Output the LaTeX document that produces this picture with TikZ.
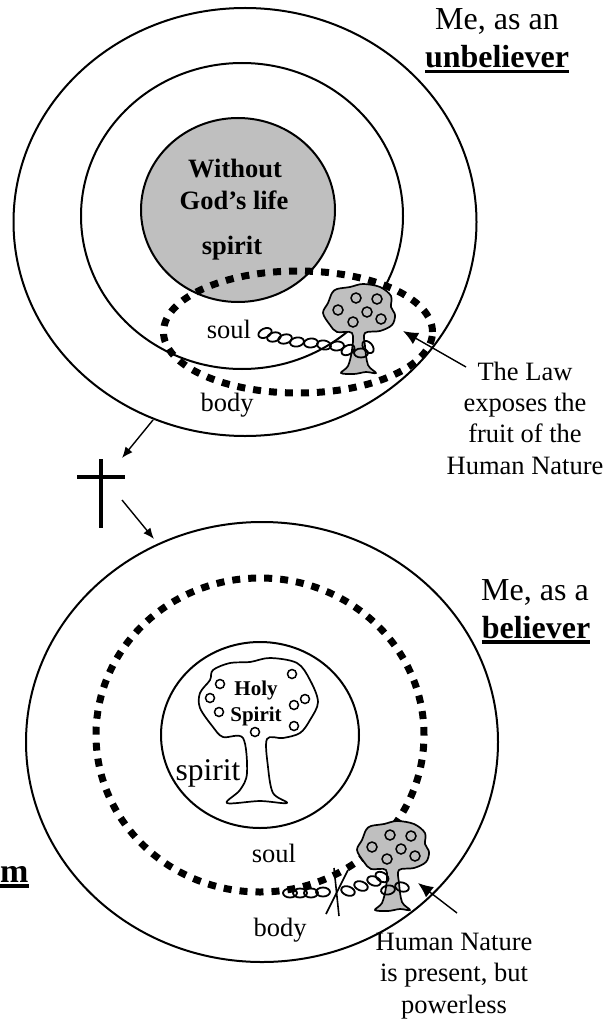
\documentclass[tikz,border=0pt]{standalone}
\usepackage{fontspec}
\setmainfont{Liberation Serif}
\usetikzlibrary{arrows.meta, positioning, shapes.geometric}
\newcommand{\fs}[1]{\fontsize{#1}{31.3}\selectfont}
\newcommand{\ulbar}[1]{\setbox0\hbox{#1}\rlap{\copy0}\rlap{\rule[-5.5pt]{\wd0}{3.5pt}}\hskip\wd0}
\begin{document}
\begin{tikzpicture}[
    x=1pt, y=-1pt,
    ring/.style={ellipse, draw=black, line width=2pt, inner sep=0pt},
    dotring/.style={ellipse, draw=black, line width=7pt, dash pattern=on 8pt off 8pt, inner sep=0pt},
    lbl/.style={align=center, inner sep=0pt, anchor=base, font=\fs{26.5}},
    big/.style={align=center, inner sep=0pt, anchor=base, font=\fs{32}},
    bold/.style={align=center, inner sep=0pt, anchor=base, font=\fs{26.5}\bfseries},
    arr/.style={-{Latex[length=15pt,width=13pt]}, line width=1.4pt},
    thin arr/.style={-{Latex[length=11pt,width=9pt]}, line width=1.4pt},
    link/.style={draw=black, line width=1.8pt},
    tree line/.style={draw=black, line width=1.7pt, line join=round},
    nut/.style={draw=black, line width=1.5pt, fill=none},
    fruit tree/.pic={
      \path[tree line, fill=treegray] plot[smooth cycle, tension=0.55] coordinates {
        (-23,-44) (-10,-46) (3,-49) (20,-46) (31,-37) (31,-26) (35,-18) (32,-8) (20,-2)
        (5,0) (5,13) (8,32) (16,40) (6,39) (-6,41) (-19,40) (-12,33) (-8,17) (-8,0)
        (-23,-1) (-30,-8) (-37,-20) (-32,-30) (-28,-40)};
      \foreach \fx/\fy in {-4/-35, 17/-34, -22/-23, 7/-21, -7/-11, 21/-14}
        \draw[nut] (\fx,\fy) circle (5);
    },
  ]
    \definecolor{treegray}{gray}{0.75}
    \useasboundingbox (0,0) rectangle (613,1019);

    % unbeliever
    \node[ring, minimum width=463pt, minimum height=428pt] (outerA) at (245,222) {};
    \node[ring, minimum width=322pt, minimum height=306pt] (middleA) at (242,216) {};
    \node[ring, fill=treegray, minimum width=194pt, minimum height=184pt] (spiritA) at (238,210) {};
    \node[dotring, minimum width=269pt, minimum height=122pt] (dotsA) at (298,332) {};
    \pic (treeA) at (360,333) {fruit tree};
    \foreach \cx/\cy/\ca in {265/333/25, 274/337/15, 285/339/15, 297/342/10, 311/343/5, 324/345/-10,
                             337/346/5, 348/350/30, 361/353/0, 368/347/-50}
      \draw[link] (\cx,\cy) ellipse[x radius=7, y radius=4.5, rotate=\ca];

    \node[big] (meA) at (497,30) {Me, as an};
    \node[big, font=\fs{32}\bfseries] (unbeliever) at (497,68) {\ulbar{unbeliever}};
    \node[bold] (without) at (235,178) {Without};
    \node[bold] (godslife) at (234,209) {God’s life};
    \node[bold] (spiritlabelA) at (232,254) {spirit};
    \node[lbl] (soulA) at (229,338) {soul};
    \node[lbl] (bodyA) at (227,411) {body};
    \node[lbl] (lawtext) at (525,474) {The Law\\exposes the\\fruit of the\\Human Nature};

    % cross
    \coordinate (crossT) at (101,459);
    \coordinate (crossB) at (101,528);
    \coordinate (crossL) at (77,477);
    \coordinate (crossR) at (125,477);
    \draw[line width=4pt] (crossT) -- (crossB);
    \draw[line width=4pt] (crossL) -- (crossR);
    \coordinate (downA) at (153,420);
    \coordinate (downB) at (122,458);
    \coordinate (downC) at (122,500);
    \coordinate (downD) at (154,539);
    \draw[thin arr] (downA) -- (downB);
    \draw[thin arr] (downC) -- (downD);

    % believer
    \node[ring, minimum width=472pt, minimum height=440pt] (outerB) at (262,742) {};
    \node[dotring, minimum width=328pt, minimum height=314pt] (dotsB) at (260,735) {};
    \node[ring, minimum width=198pt, minimum height=186pt] (spiritB) at (260,735) {};
    \path[tree line] plot[smooth cycle, tension=0.55] coordinates {
      (230,663) (250,662) (270,658) (297,663) (310,680) (318,702) (310,720) (300,733) (283,738) (267,739)
      (268,767) (273,793) (287,803) (260,801) (227,803) (240,790) (247,773) (243,738)
      (223,737) (213,727) (200,708) (200,693) (210,680) (213,670)};
    \foreach \fx/\fy in {220/684, 210/698, 219/712, 255/732, 292/674, 305/699, 294/705, 294/726}
      \draw[nut] (\fx,\fy) circle (4.5);
    \node[bold, font=\fs{21}\bfseries] (holy) at (256,695) {Holy};
    \node[bold, font=\fs{21}\bfseries] (holyspirit) at (256,721) {Spirit};
    \node[big, font=\fs{31.6}] (spiritlabelB) at (208,780) {spirit};

    \pic (treeB) at (394,870) {fruit tree};
    \foreach \cx/\cy/\ca in {290/893/0, 300/893/0, 311/893/0, 323/892/0, 348/891/-20, 361/886/-20,
                             374/881/-20, 382/877/-30, 388/890/10, 402/887/-15}
      \draw[link] (\cx,\cy) ellipse[x radius=7, y radius=4.5, rotate=\ca];
    \coordinate (slashAa) at (326,914);
    \coordinate (slashAb) at (348,870);
    \coordinate (slashBa) at (339,916);
    \coordinate (slashBb) at (334,868);
    \draw[line width=1.6pt] (slashAa) -- (slashAb);
    \draw[line width=1.6pt] (slashBa) -- (slashBb);

    \node[big] (meB) at (535,600) {Me, as a};
    \node[big, font=\fs{32}\bfseries] (believer) at (536,638) {\ulbar{believer}};
    \node[lbl] (soulB) at (274,862) {soul};
    \node[lbl] (bodyB) at (280,936) {body};
    \node[lbl] (naturetext) at (454,1013) {Human Nature\\is present, but\\powerless};
    \node[big, font=\fs{34}\bfseries, anchor=base west] (cutm) at (0,882) {\ulbar{m}};

    % arrows to the trees
    \coordinate (lawtail) at (466,367);
    \coordinate (lawtip) at (403,331);
    \coordinate (naturetail) at (457,913);
    \coordinate (naturetip) at (418,883);
    \draw[arr] (lawtail) -- (lawtip);
    \draw[arr] (naturetail) -- (naturetip);
\end{tikzpicture}
\end{document}
